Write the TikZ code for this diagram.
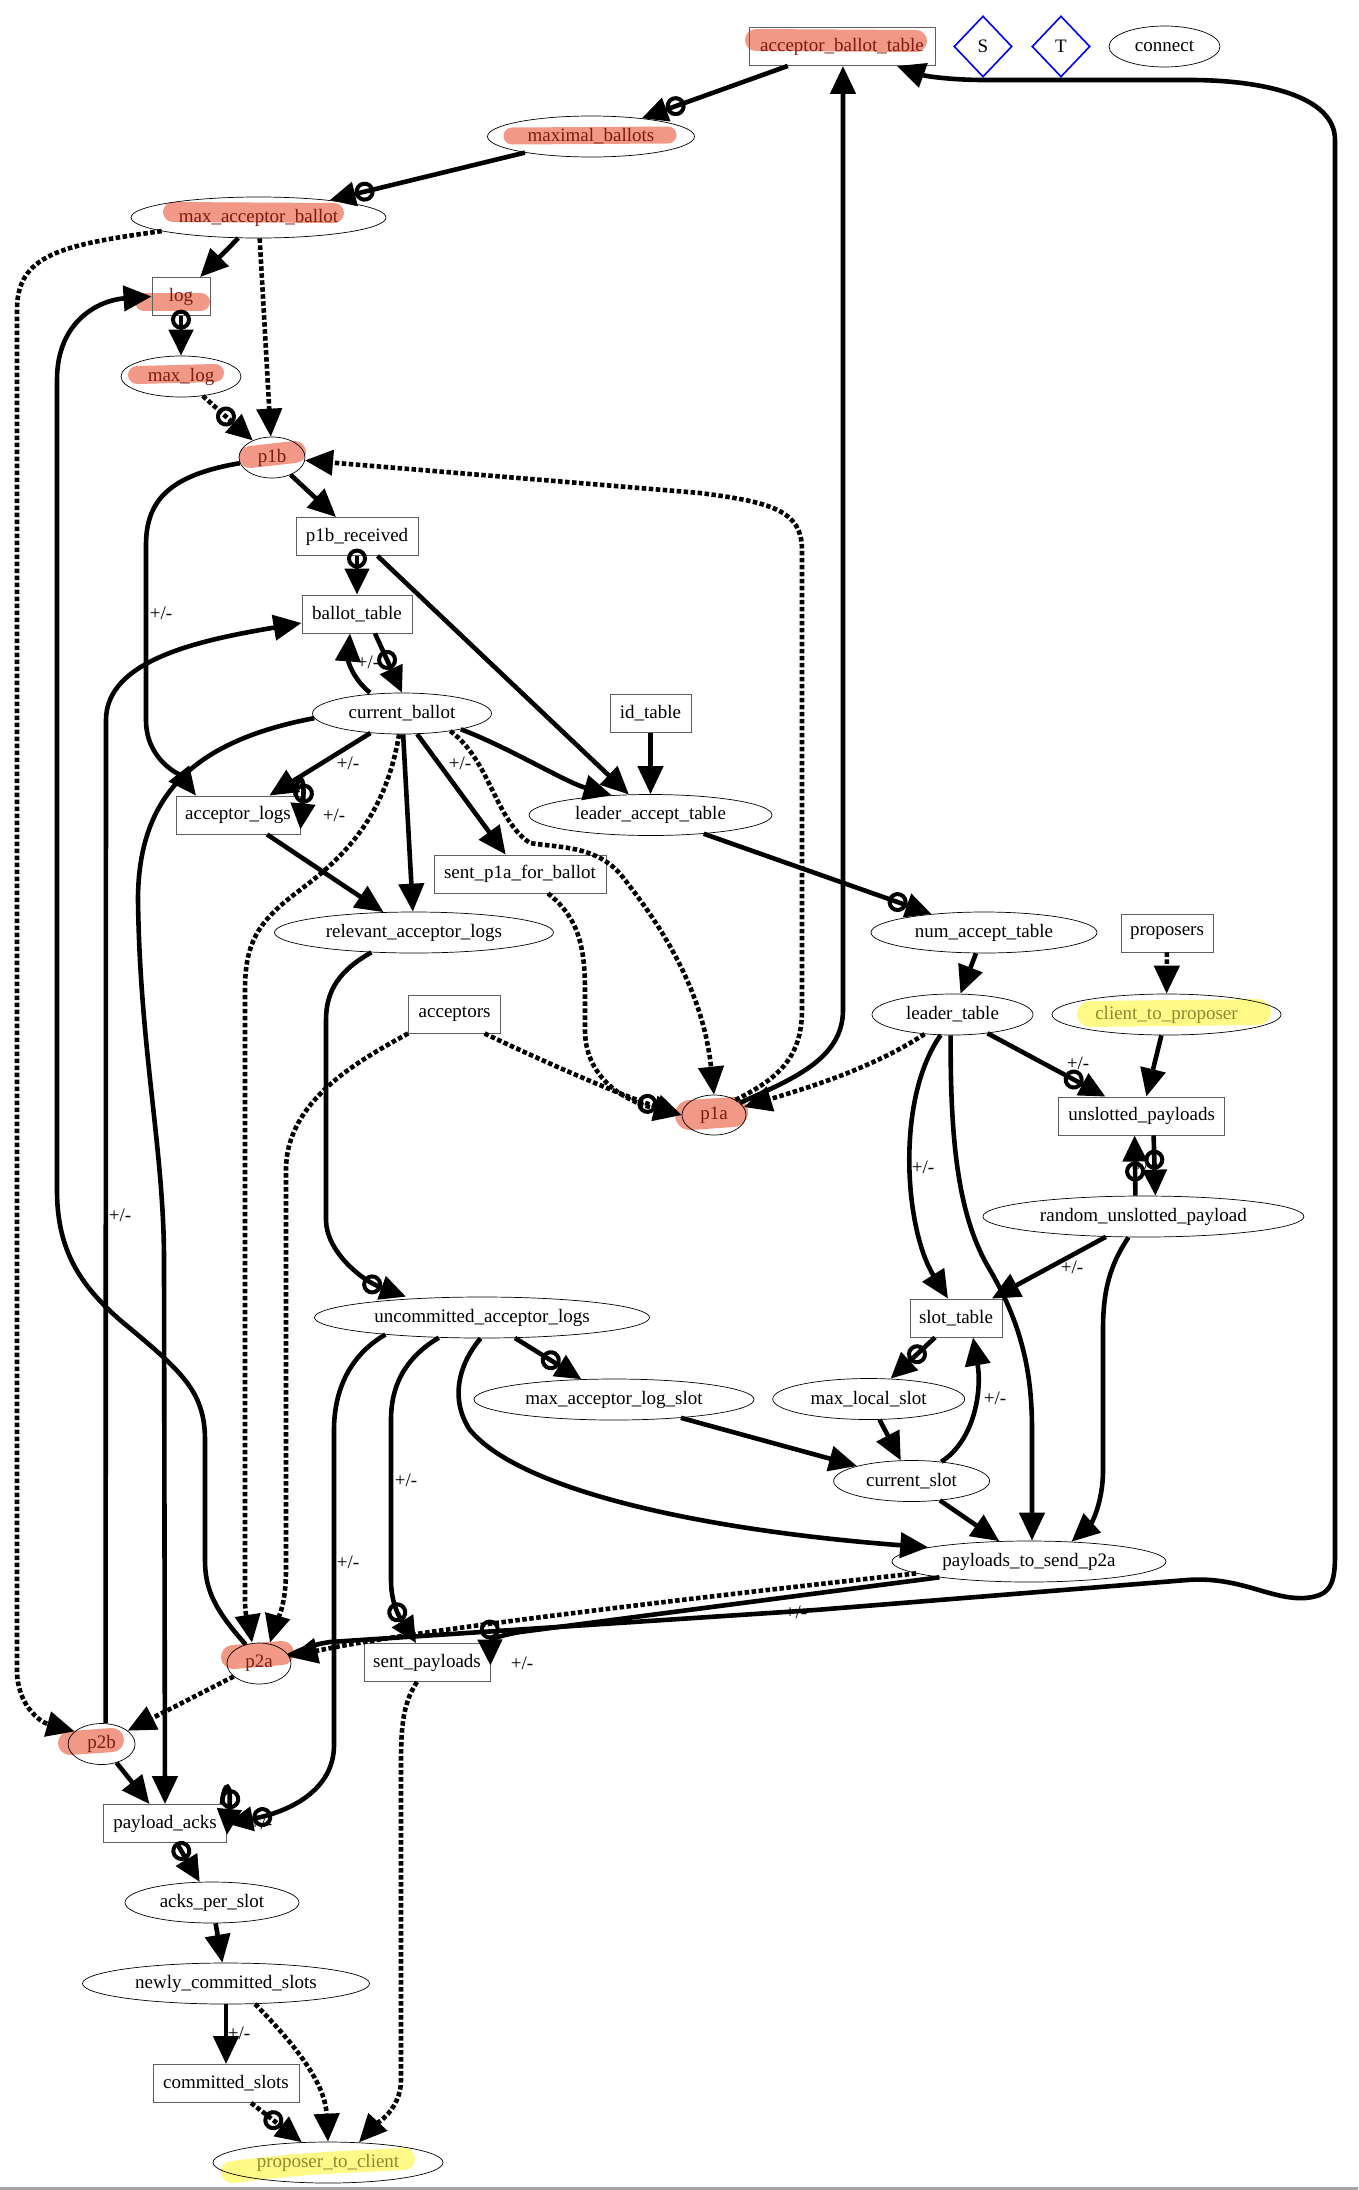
\documentclass[tikz,border=0pt]{standalone}
\usepackage{fontspec}
\setmainfont{Liberation Serif}
\usetikzlibrary{arrows.meta,shapes.geometric}
\definecolor{hlsalmon}{RGB}{241,152,134}
\definecolor{hlyellow}{RGB}{255,250,135}
\definecolor{chanred}{RGB}{125,28,16}
\definecolor{ioolive}{RGB}{140,138,48}
\definecolor{tblgray}{RGB}{95,95,95}
\newcommand\gvfont{\fontsize{19}{22}\selectfont}
\pgfdeclarelayer{marker}
\pgfsetlayers{marker,main}
\tikzset{
  tbl/.style={draw=tblgray, line width=0.9pt, rectangle, minimum height=38pt, minimum width=#1, inner sep=0pt, font=\gvfont},
  rel/.style={draw, ellipse, line width=0.7pt, minimum height=41pt, minimum width=#1, inner sep=0pt, font=\gvfont},
  src/.style={draw=blue, diamond, line width=1.6pt, minimum width=58pt, minimum height=61pt, inner sep=0pt, font=\gvfont},
  flow/.style={line width=4.6pt, -{Triangle[length=28pt,width=25pt]}},
  flowo/.style={line width=4.6pt, -{Circle[open,length=20pt,width=20pt,line width=4pt] Triangle[length=26pt,width=24pt]}},
  async/.style={dash pattern=on 4.5pt off 2.5pt},
  pm/.style={font=\gvfont, inner sep=1pt},
  hlred/.style={draw=hlsalmon, line width=#1, line cap=round},
  hlyel/.style={draw=hlyellow, line width=#1, line cap=round}
}

\begin{document}
\begin{tikzpicture}[x=1pt, y=-1pt]
\useasboundingbox (0,0) rectangle (1358,2190);
\fill[black!35] (0,2187) rectangle (1358,2190);

\node[tbl=186pt, text=chanred] (abt) at (842,46.5) {acceptor\_ballot\_table};
\node[src] (S) at (983,46.5) {S};
\node[src] (T) at (1061,46.5) {T};
\node[rel=111pt] (connect) at (1164.5,46.5) {connect};
\node[rel=207pt, text=chanred] (maxb) at (591,136.5) {maximal\_ballots};
\node[rel=255pt, text=chanred] (mab) at (258.5,217.5) {max\_acceptor\_ballot};
\node[tbl=58pt, text=chanred] (log) at (181,296.5) {log};
\node[rel=120pt, text=chanred] (maxlog) at (181,376.5) {max\_log};
\node[rel=66pt, text=chanred] (p1b) at (272,457.5) {p1b};
\node[tbl=122pt] (p1br) at (357,536.5) {p1b\_received};
\node[tbl=110pt] (bt) at (357,614) {ballot\_table};
\node[rel=179pt] (cb) at (402,713.5) {current\_ballot};
\node[tbl=81pt] (idt) at (650.5,713.5) {id\_table};
\node[tbl=124pt] (al) at (238,815) {acceptor\_logs};
\node[rel=243pt] (lat) at (650.5,815) {leader\_accept\_table};
\node[tbl=172pt] (sp1a) at (520,874) {sent\_p1a\_for\_ballot};
\node[rel=279pt] (ral) at (414,932.5) {relevant\_acceptor\_logs};
\node[rel=226pt] (nat) at (984,932.5) {num\_accept\_table};
\node[tbl=92pt] (props) at (1167,933) {proposers};
\node[tbl=92pt] (accs) at (454.6,1014) {acceptors};
\node[rel=161pt] (lt) at (952.5,1014.5) {leader\_table};
\node[rel=229pt, text=ioolive] (ctp) at (1166.5,1014.5) {client\_to\_proposer};
\node[rel=64pt, minimum height=40pt, text=chanred] (p1a) at (714,1115) {p1a};
\node[tbl=166pt] (up) at (1141.6,1116) {unslotted\_payloads};
\node[rel=321pt] (rup) at (1143.4,1216.5) {random\_unslotted\_payload};
\node[rel=335pt] (ual) at (482,1317.5) {uncommitted\_acceptor\_logs};
\node[tbl=92pt] (st) at (956,1318) {slot\_table};
\node[rel=280pt] (mals) at (614,1399.5) {max\_acceptor\_log\_slot};
\node[rel=192pt] (mls) at (868.7,1399) {max\_local\_slot};
\node[rel=156pt] (cs) at (911.6,1481) {current\_slot};
\node[rel=274pt] (ptsp) at (1029,1561.5) {payloads\_to\_send\_p2a};
\node[rel=64pt, text=chanred] (p2a) at (259,1663.5) {p2a};
\node[tbl=126pt] (spl) at (427,1662.5) {sent\_payloads};
\node[rel=67pt, text=chanred] (p2b) at (101.6,1744) {p2b};
\node[tbl=123pt] (pa) at (165,1823.5) {payload\_acks};
\node[rel=174pt] (aps) at (212,1902.5) {acks\_per\_slot};
\node[rel=287pt] (ncs) at (226,1983.5) {newly\_committed\_slots};
\node[tbl=146pt] (cms) at (226,2083.5) {committed\_slots};
\node[rel=230pt, text=ioolive] (ptc) at (328,2162.5) {proposer\_to\_client};

\begin{pgfonlayer}{marker}
\draw[hlred=22pt] (756,40) -- (916,41);
\draw[hlred=17pt] (512,136) -- (668,135);
\draw[hlred=20pt] (173,212) -- (334,213);
\draw[hlred=18pt] (144,302) -- (201,302);
\draw[hlred=18pt] (137,375) -- (215,373);
\draw[hlred=22pt] (250,457) -- (295,452);
\draw[hlred=30pt] (690,1115) -- (733,1112);
\draw[hlred=24pt] (233,1657) -- (282,1653);
\draw[hlred=24pt] (70,1743) -- (112,1740);
\draw[hlyel=26pt] (1090,1014) -- (1258,1012);
\draw[hlyel=22pt] (232,2172) .. controls (300,2164) .. (404,2159);
\end{pgfonlayer}

\draw[flowo] (abt) -- (maxb);
\draw[flowo] (maxb) -- (mab);
\draw[flow] (mab) -- (log);
\draw[flow, async] (mab) -- (p1b);
\draw[flow, async] (mab.188) .. controls (60,245) and (17,255) .. (17,310) -- (17,1670) .. controls (17,1705) and (40,1722) .. (p2b.155);
\draw[flowo] (log) -- (maxlog);
\draw[flowo, async] (maxlog) -- (p1b);
\draw[flow] (p1b) -- (p1br);
\draw[flow] (p1b.190) .. controls (170,475) and (146,500) .. (146,545) -- (146,720) .. controls (146,760) and (180,775) .. ([xshift=-42pt]al.north) node[pm] at (161,613) {+/-};
\draw[flowo] (p1br) -- (bt);
\draw[flow] (p1br) -- (lat);
\draw[flowo] ([xshift=18pt]bt.south) -- (cb.north);
\draw[flow] ([xshift=-32pt]cb.north) .. controls (352,678) and (348,660) .. ([xshift=-7pt]bt.south) node[pm] at (368,662) {+/-};
\draw[flow] ([xshift=4pt]p2b.north) -- (106,720) .. controls (106,660) and (200,640) .. ([yshift=-9pt]bt.west) node[pm] at (120,1215) {+/-};
\draw[flow] (cb.183) .. controls (200,740) and (138,790) .. (138,900) .. controls (140,1050) and (164,1150) .. (164,1260) -- (pa.north);
\draw[flow] (cb) -- (al) node[pm] at (348,763) {+/-};
\draw[flowo] ([xshift=-5pt]al.north east) .. controls (297,772) and (306,772) .. ([yshift=5pt]al.south east) node[pm] at (334,815) {+/-};
\draw[flow, async] (cb.262) .. controls (385,820) and (340,860) .. (300,890) .. controls (260,920) and (245,940) .. (245,990) -- (245,1600) .. controls (245,1620) and (250,1630) .. ([xshift=-7pt]p2a.north);
\draw[flow] (cb) -- (ral);
\draw[flow] (al) -- (ral);
\draw[flow] (cb) -- (sp1a) node[pm] at (460,763) {+/-};
\draw[flow, async] (cb.-20) .. controls (490,760) and (495,820) .. (530,843) .. controls (560,848) and (600,845) .. (625,880) .. controls (680,950) and (705,1010) .. (p1a.north);
\draw[flow] (cb.-15) .. controls (510,748) and (565,782) .. (lat.153);
\draw[flow] (idt) -- (lat);
\draw[flowo] (lat) -- (nat);
\draw[flow] (nat) -- (lt);
\draw[flow, async] (props) -- (ctp);
\draw[flow] (ctp) -- (up);
\draw[flowo] (lt) -- (up) node[pm] at (1078,1063) {+/-};
\draw[flowo] ([xshift=-8pt]rup.north) -- ([xshift=-7pt]up.south);
\draw[flowo] ([xshift=12pt]up.south) -- ([xshift=12pt]rup.north) node[pm] at (1144,1165) {+/-};
\draw[flow] (lt.-120) .. controls (895,1100) and (905,1230) .. ([xshift=-8pt]st.north) node[pm] at (923,1167) {+/-};
\draw[flow] (lt.-95) .. controls (950,1150) and (960,1220) .. (990,1270) .. controls (1025,1330) and (1032,1380) .. (1032,1430) -- ([xshift=3pt]ptsp.north);
\draw[flow] (rup) -- (st) node[pm] at (1072,1267) {+/-};
\draw[flow] ([xshift=-15pt]rup.south) .. controls (1110,1265) and (1103,1290) .. (1103,1330) -- (1103,1470) .. controls (1103,1505) and (1090,1525) .. (ptsp.25);
\draw[flowo] (st) -- (mls);
\draw[flow] (cs.33) .. controls (975,1440) and (982,1390) .. ([xshift=17pt]st.south) node[pm] at (995,1398) {+/-};
\draw[flow] (mls) -- (cs);
\draw[flow] (mals) -- (cs);
\draw[flow] (cs) -- (ptsp);
\draw[flow] (ual.-94) .. controls (458,1365) and (450,1400) .. (470,1430) .. controls (520,1490) and (700,1530) .. (ptsp.172);
\draw[flowo] (ual) -- (mals);
\draw[flowo] (ral.-155) .. controls (340,970) and (326,990) .. (326,1020) -- (326,1220) .. controls (326,1250) and (360,1280) .. ([xshift=-76pt]ual.north);
\draw[flowo] (ual.-155) .. controls (410,1355) and (391,1380) .. (391,1420) -- (391,1580) .. controls (391,1610) and (405,1625) .. ([xshift=-11pt]spl.north) node[pm] at (406,1480) {+/-};
\draw[flowo] (ual.-170) .. controls (350,1355) and (334,1390) .. (334,1430) -- (334,1745) .. controls (334,1790) and (290,1812) .. (pa.east) node[pm] at (348,1562) {+/-};
\draw[flowo] ([xshift=-5pt]pa.north east) .. controls (224,1780) and (232,1780) .. ([yshift=8pt]pa.south east) node[pm] at (261,1823) {+/-};
\draw[flow] (p2b) -- (pa);
\draw[flow, async] (p2a) -- (p2b);
\draw[flow] (p2a.125) .. controls (215,1610) and (205,1590) .. (205,1560) -- (205,1440) .. controls (205,1390) and (180,1370) .. (120,1320) .. controls (80,1285) and (57,1250) .. (57,1190) -- (57,380) .. controls (57,320) and (100,300) .. (log.west);
\draw[flow] (p2a.15) .. controls (300,1650) and (310,1645) .. (330,1642) -- (815,1610) -- (1187,1580) .. controls (1240,1576) and (1270,1600) .. (1305,1598) .. controls (1330,1596) and (1335,1585) .. (1335,1555) -- (1335,140) .. controls (1335,95) and (1260,80) .. (1190,80) -- (985,80) .. controls (950,80) and (925,76) .. ([xshift=55pt]abt.south) node[pm] at (796,1612) {+/-};
\draw[flow, async] (ptsp.186) .. controls (700,1597) and (400,1632) .. (p2a.12);
\draw[flowo] (ptsp.190) -- (520,1632) .. controls (497,1636) and (490,1640) .. ([yshift=-3pt]spl.east) node[pm] at (522,1663) {+/-};
\draw[flow, async] ([xshift=-10pt]spl.south) .. controls (405,1700) and (401,1720) .. (401,1760) -- (401,2080) .. controls (401,2110) and (375,2125) .. (ptc.33);
\draw[flowo] (pa) -- (aps);
\draw[flow] (aps) -- (ncs);
\draw[flow] (ncs) -- (cms) node[pm] at (239,2033) {+/-};
\draw[flow, async] (ncs.-35) .. controls (290,2040) and (325,2080) .. (ptc.north);
\draw[flowo, async] (cms) -- (ptc);
\draw[flow, async] (lt.-145) .. controls (870,1070) and (800,1090) .. (p1a.15);
\draw[flow, async] (p1a.35) .. controls (775,1080) and (802,1060) .. (802,1010) -- (802,550) .. controls (802,510) and (770,502) .. (700,493) -- (p1b.-5);
\draw[flow] (p1a.25) .. controls (790,1080) and (843,1060) .. (843,1010) -- ([xshift=1pt]abt.south);
\draw[flowo, async] ([xshift=30pt]accs.south) .. controls (540,1060) and (620,1095) .. (p1a.west);
\draw[flow, async] ([xshift=28pt]sp1a.south) .. controls (575,915) and (585,940) .. (585,990) -- (585,1030) .. controls (585,1075) and (620,1100) .. (p1a.west);
\draw[flow, async] (accs.south west) .. controls (360,1060) and (286,1100) .. (286,1170) -- (286,1570) .. controls (286,1610) and (275,1625) .. ([xshift=11pt]p2a.north);
\end{tikzpicture}
\end{document}
